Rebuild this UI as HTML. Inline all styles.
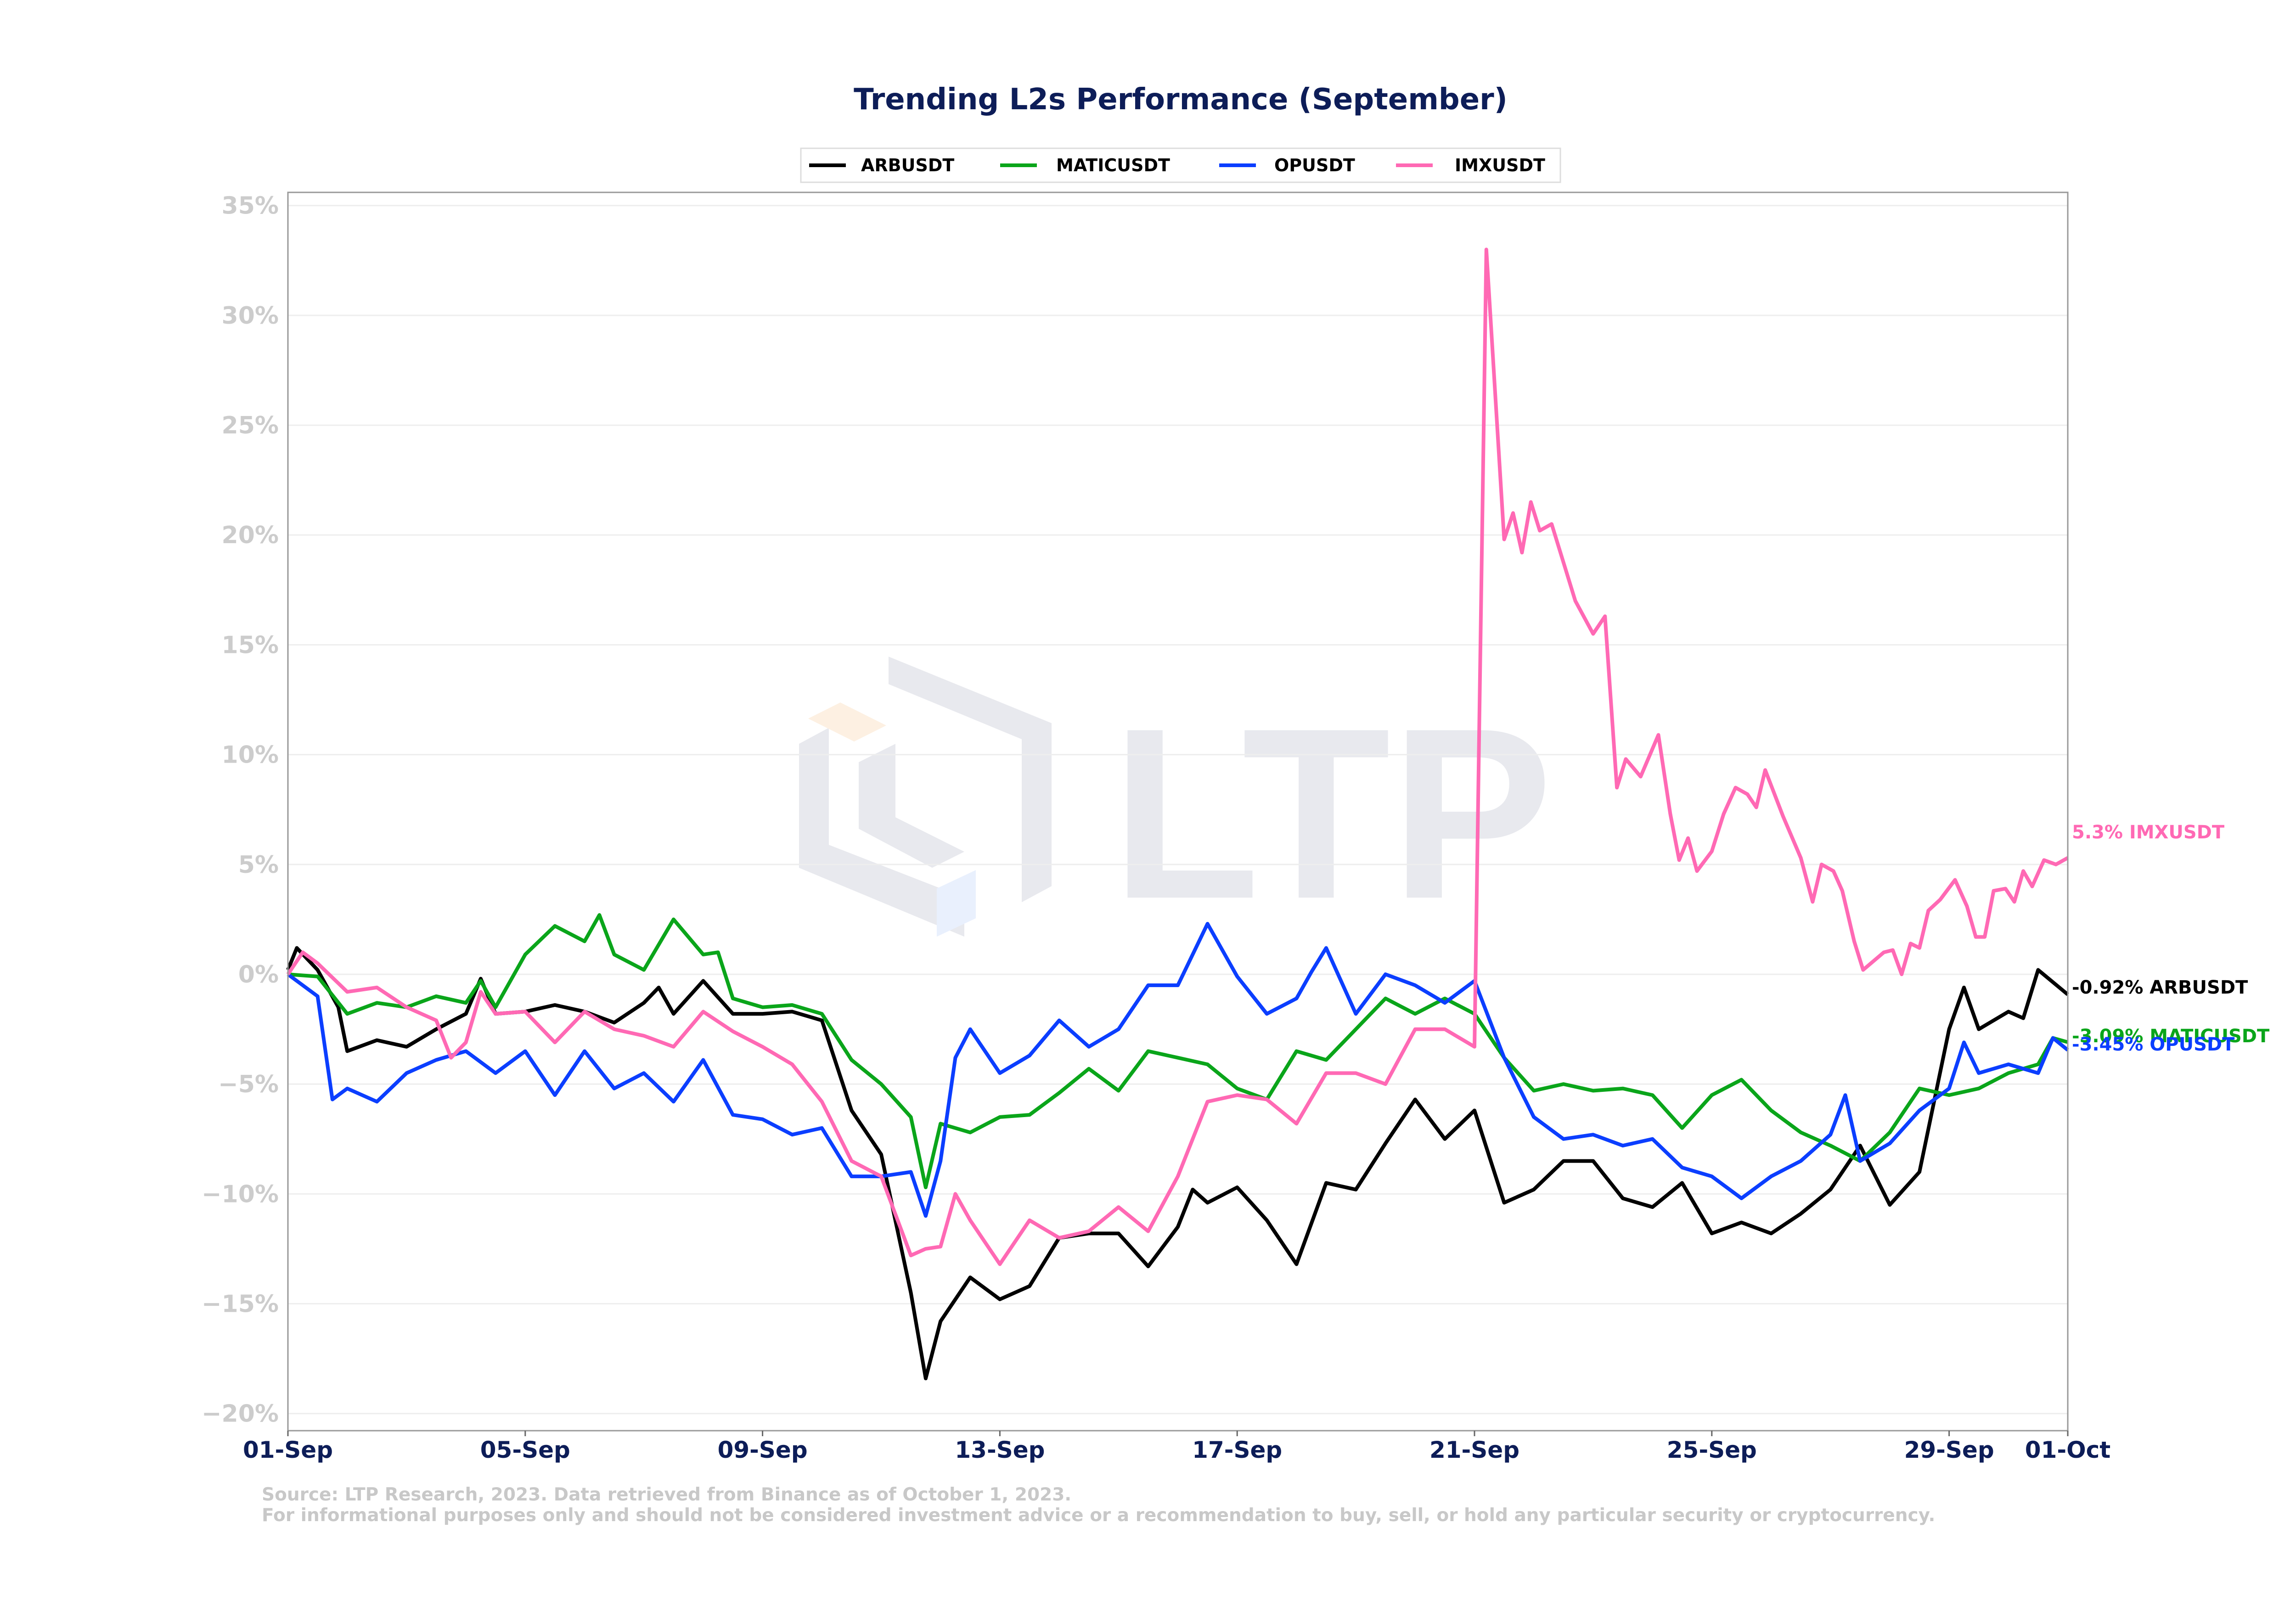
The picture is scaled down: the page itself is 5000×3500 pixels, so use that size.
<!DOCTYPE html>
<html><head><meta charset="utf-8">
<style>
html,body{margin:0;padding:0;background:#fff;}
svg{display:block;font-family:"DejaVu Sans","Liberation Sans",sans-serif;}
</style></head>
<body>
<svg id="chart" width="5000" height="3500" viewBox="0 0 5000 3500" xmlns="http://www.w3.org/2000/svg">
  <rect width="5000" height="3500" fill="#fff"/>
  <text x="2571" y="238" text-anchor="middle" font-size="64" font-weight="bold" fill="#0d1d58">Trending L2s Performance (September)</text>
  <g opacity="1">
    <polygon points="1935,1430 2290,1575 2290,1930 2225,1965 2225,1610 1935,1490" fill="#e8e9ee"/>
    <polygon points="1740,1620 1805,1585 1805,1840 2100,1955 2100,2040 1740,1890" fill="#e8e9ee"/>
    <polygon points="1870,1660 1950,1620 1950,1780 2100,1855 2030,1890 1870,1805" fill="#e8e9ee"/>
    <polygon points="1760,1565 1830,1530 1930,1580 1860,1615" fill="#fdf0e2"/>
    <polygon points="2040,1935 2125,1895 2125,2000 2040,2040" fill="#e9f0fd"/>
    <text x="2420" y="1955" font-size="530" font-weight="bold" fill="#e8e9ee" font-family="Liberation Sans, sans-serif">LTP</text>
  </g>
  <g id="grid"></g>
  <g id="plot"></g>
  <rect x="627" y="419" width="3876" height="2697" fill="none" stroke="#999" stroke-width="3"/>
  <g id="axes"></g>
  <g>
    <rect x="1744" y="323" width="1654" height="74" fill="#fff" stroke="#ddd" stroke-width="3"/>
    <g><line x1="1762" y1="360" x2="1842" y2="360" stroke="#000" stroke-width="8"/><text x="1875" y="373" font-size="38" font-weight="bold">ARBUSDT</text></g>
    <g><line x1="2178" y1="360" x2="2258" y2="360" stroke="#0aa51a" stroke-width="8"/><text x="2300" y="373" font-size="38" font-weight="bold">MATICUSDT</text></g>
    <g><line x1="2655" y1="360" x2="2735" y2="360" stroke="#0b3eff" stroke-width="8"/><text x="2775" y="373" font-size="38" font-weight="bold">OPUSDT</text></g>
    <g><line x1="3040" y1="360" x2="3120" y2="360" stroke="#ff69b4" stroke-width="8"/><text x="3168" y="373" font-size="38" font-weight="bold">IMXUSDT</text></g>
  </g>
  <text x="570" y="3268" font-size="39" font-weight="bold" fill="#c8c8c8">Source: LTP Research, 2023. Data retrieved from Binance as of October 1, 2023.</text>
  <text x="570" y="3313" font-size="39" font-weight="bold" fill="#c8c8c8">For informational purposes only and should not be considered investment advice or a recommendation to buy, sell, or hold any particular security or cryptocurrency.</text>
</svg>
<script>
const yTicks = [-20,-15,-10,-5,0,5,10,15,20,25,30,35];
const xTickDays = [0,4,8,12,16,20,24,28,30];
const xTickLabels = ["01-Sep","05-Sep","09-Sep","13-Sep","17-Sep","21-Sep","25-Sep","29-Sep","01-Oct"];
const arbT = [0,0.15,0.5,0.85,1,1.5,2,2.5,3,3.25,3.5,4,4.5,5,5.5,6,6.25,6.5,7,7.5,8,8.5,9,9.5,10,10.5,10.75,11,11.5,12,12.5,13,13.5,14,14.5,15,15.25,15.5,16,16.5,17,17.5,18,18.5,19,19.5,20,20.5,21,21.5,22,22.5,23,23.5,24,24.5,25,25.5,26,26.5,27,27.5,28,28.25,28.5,29,29.25,29.5,30];
const arbV = [0.2,1.2,0.2,-1.5,-3.5,-3,-3.3,-2.5,-1.8,-0.2,-1.8,-1.7,-1.4,-1.7,-2.2,-1.3,-0.6,-1.8,-0.3,-1.8,-1.8,-1.7,-2.1,-6.2,-8.2,-14.5,-18.4,-15.8,-13.8,-14.8,-14.2,-12,-11.8,-11.8,-13.3,-11.5,-9.8,-10.4,-9.7,-11.2,-13.2,-9.5,-9.8,-7.7,-5.7,-7.5,-6.2,-10.4,-9.8,-8.5,-8.5,-10.2,-10.6,-9.5,-11.8,-11.3,-11.8,-10.9,-9.8,-7.8,-10.5,-9,-2.5,-0.6,-2.5,-1.7,-2,0.2,-0.92];
const maticT = [0,0.5,1,1.5,2,2.5,3,3.25,3.5,4,4.5,5,5.25,5.5,6,6.5,7,7.25,7.5,8,8.5,9,9.5,10,10.5,10.75,11,11.5,12,12.5,13,13.5,14,14.5,15,15.5,16,16.5,17,17.5,18,18.5,19,19.5,20,20.5,21,21.5,22,22.5,23,23.5,24,24.5,25,25.5,26,26.5,27,27.5,28,28.5,29,29.5,29.75,30];
const maticV = [0,-0.1,-1.8,-1.3,-1.5,-1,-1.3,-0.3,-1.5,0.9,2.2,1.5,2.7,0.9,0.2,2.5,0.9,1,-1.1,-1.5,-1.4,-1.8,-3.9,-5,-6.5,-9.7,-6.8,-7.2,-6.5,-6.4,-5.4,-4.3,-5.3,-3.5,-3.8,-4.1,-5.2,-5.7,-3.5,-3.9,-2.5,-1.1,-1.8,-1.1,-1.8,-3.8,-5.3,-5,-5.3,-5.2,-5.5,-7,-5.5,-4.8,-6.2,-7.2,-7.8,-8.5,-7.2,-5.2,-5.5,-5.2,-4.5,-4.1,-2.9,-3.09];
const opT = [0,0.5,0.75,1,1.5,2,2.5,3,3.5,4,4.5,5,5.5,6,6.5,7,7.5,8,8.5,9,9.5,10,10.5,10.75,11,11.25,11.5,12,12.5,13,13.5,14,14.5,15,15.5,16,16.5,17,17.25,17.5,18,18.5,19,19.5,20,20.5,21,21.5,22,22.5,23,23.5,24,24.5,25,25.5,26,26.25,26.5,27,27.5,28,28.25,28.5,29,29.5,29.75,30];
const opV = [0,-1,-5.7,-5.2,-5.8,-4.5,-3.9,-3.5,-4.5,-3.5,-5.5,-3.5,-5.2,-4.5,-5.8,-3.9,-6.4,-6.6,-7.3,-7,-9.2,-9.2,-9,-11,-8.5,-3.8,-2.5,-4.5,-3.7,-2.1,-3.3,-2.5,-0.5,-0.5,2.3,-0.1,-1.8,-1.1,0.1,1.2,-1.8,0,-0.5,-1.3,-0.3,-3.8,-6.5,-7.5,-7.3,-7.8,-7.5,-8.8,-9.2,-10.2,-9.2,-8.5,-7.3,-5.5,-8.5,-7.7,-6.2,-5.2,-3.1,-4.5,-4.1,-4.5,-2.9,-3.45];
const imxT = [0,0.25,0.5,1,1.5,2,2.5,2.75,3,3.25,3.5,4,4.5,5,5.5,6,6.5,7,7.5,8,8.5,9,9.5,10,10.5,10.75,11,11.25,11.5,12,12.5,13,13.5,14,14.5,15,15.5,16,16.5,17,17.5,18,18.5,19,19.5,20,20.2,20.5,20.65,20.8,20.95,21.1,21.3,21.7,22,22.2,22.4,22.55,22.8,23.1,23.3,23.45,23.6,23.75,24,24.2,24.4,24.6,24.75,24.9,25.2,25.5,25.7,25.85,26.05,26.2,26.4,26.55,26.9,27.05,27.2,27.35,27.5,27.65,27.85,28.1,28.3,28.45,28.6,28.75,28.95,29.1,29.25,29.4,29.6,29.8,30];
const imxV = [0,1,0.5,-0.8,-0.6,-1.5,-2.1,-3.8,-3.1,-0.8,-1.8,-1.7,-3.1,-1.7,-2.5,-2.8,-3.3,-1.7,-2.6,-3.3,-4.1,-5.8,-8.5,-9.2,-12.8,-12.5,-12.4,-10,-11.2,-13.2,-11.2,-12,-11.7,-10.6,-11.7,-9.2,-5.8,-5.5,-5.7,-6.8,-4.5,-4.5,-5,-2.5,-2.5,-3.3,33,19.8,21,19.2,21.5,20.2,20.5,17,15.5,16.3,8.5,9.8,9,10.9,7.3,5.2,6.2,4.7,5.6,7.3,8.5,8.2,7.6,9.3,7.2,5.3,3.3,5,4.7,3.8,1.5,0.2,1,1.1,0,1.4,1.2,2.9,3.4,4.3,3.1,1.7,1.7,3.8,3.9,3.3,4.7,4,5.2,5,5.3];
const endLabels = ["-0.92% ARBUSDT","-3.09% MATICUSDT","-3.45% OPUSDT","5.3% IMXUSDT"];

const NS="http://www.w3.org/2000/svg";
const X0=627,X1=4503,Y0=419,Y1=3116,XMAX=30,YMIN=-20.78,YMAX=35.6;
function xs(d){return X0+(X1-X0)*d/XMAX;}
function ys(v){return Y1-(Y1-Y0)*(v-YMIN)/(YMAX-YMIN);}
function mk(tag,attrs,parent){const e=document.createElementNS(NS,tag);for(const k in attrs)e.setAttribute(k,attrs[k]);parent.appendChild(e);return e;}
const grid=document.getElementById('grid'),plot=document.getElementById('plot'),axes=document.getElementById('axes');
yTicks.forEach(v=>{
  const g=mk('line',{x1:X0,x2:X1,y1:ys(v),y2:ys(v),stroke:'#eeeeee','stroke-width':3},grid);
  
  
  const t=mk('text',{x:X0-20,y:ys(v)+18,'text-anchor':'end','font-size':52,'font-weight':'bold',fill:'#cccccc'},axes);
  t.textContent=(v<0?'\u2212'+(-v):v)+'%';
  
  
});
xTickDays.forEach((d,i)=>{
  const tk=mk('line',{x1:xs(d),x2:xs(d),y1:Y1,y2:Y1+12,stroke:'#666','stroke-width':3},axes);
  
  
  const t=mk('text',{x:xs(d),y:3175,'text-anchor':'middle','font-size':50,'font-weight':'bold',fill:'#0d1d58'},axes);
  t.textContent=xTickLabels[i];
  
  
});
const series=[
  {t:arbT,v:arbV,c:'#000000',n:'arb-line',ly:2164},
  {t:maticT,v:maticV,c:'#0aa51a',n:'matic-line',ly:2270},
  {t:opT,v:opV,c:'#0b3eff',n:'op-line',ly:2288},
  {t:imxT,v:imxV,c:'#ff69b4',n:'imx-line',ly:1826}
];
series.forEach((s,i)=>{
  const d=s.t.map((t,j)=>(j?'L':'M')+xs(t).toFixed(1)+','+ys(s.v[j]).toFixed(1)).join('');
  const p=mk('path',{d:d,fill:'none',stroke:s.c,'stroke-width':8,'stroke-linejoin':'round'},plot);
  
  
  const lbl=mk('text',{x:4512,y:s.ly,'font-size':40,'font-weight':'bold',fill:s.c},axes);
  lbl.textContent=endLabels[i];
  
  
});
</script>
</body></html>
